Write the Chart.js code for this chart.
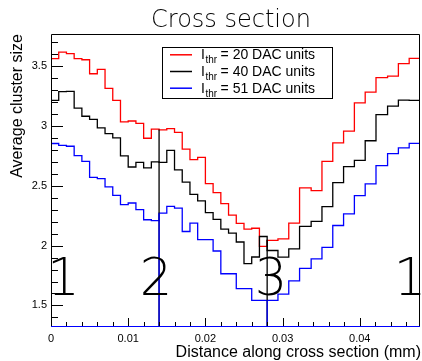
<!DOCTYPE html>
<html lang="en">
<head>
<meta charset="UTF-8">
<title>Cross section</title>
<script src="https://cdn.jsdelivr.net/npm/chart.js"></script>
<style>
  * { margin: 0; padding: 0; }
  body { background: white; }
  canvas { display: block; }
</style>
</head>
<body>
<canvas id="chart" width="422" height="361"></canvas>
<script>
// bin edges along the cross section (mm) - the pitch gets wider after 0.028 (diagonal part)
const binEdges = [0, 0.001, 0.002, 0.003, 0.004, 0.005, 0.006, 0.007, 0.008, 0.009,
  0.010, 0.011, 0.012, 0.013, 0.014, 0.015, 0.016, 0.017, 0.018, 0.019,
  0.020, 0.021, 0.022, 0.023, 0.024, 0.025, 0.026, 0.027, 0.028,
  0.0294, 0.0308, 0.0322, 0.0337, 0.0351, 0.0365, 0.0379, 0.0393,
  0.0407, 0.0421, 0.0436, 0.0450, 0.0464, 0.0478];

const thresholds = [20, 40, 51];
const seriesColors = ['#ff0000', '#000000', '#0000ff'];

const size20 = [3.562, 3.617, 3.604, 3.562, 3.553, 3.436, 3.472, 3.313, 3.213, 3.034,
  3.041, 3.022, 2.897, 2.973, 2.967, 2.978, 2.946, 2.806, 2.718, 2.737,
  2.518, 2.442, 2.350, 2.255, 2.186, 2.138, 2.145, 1.993,
  2.043, 2.056, 2.188, 2.482, 2.460, 2.704, 2.858, 2.956, 3.193, 3.282,
  3.403, 3.416, 3.520, 3.564];
const size40 = [3.213, 3.286, 3.288, 3.148, 3.081, 3.054, 2.984, 2.936, 2.900, 2.749,
  2.657, 2.696, 2.649, 2.699, 2.696, 2.796, 2.632, 2.530, 2.428, 2.373,
  2.275, 2.220, 2.138, 2.105, 2.030, 1.850, 1.905, 2.076,
  1.959, 1.904, 1.973, 2.160, 2.202, 2.325, 2.526, 2.660, 2.712, 2.876,
  3.095, 3.165, 3.215, 3.213];
const size51 = [2.853, 2.838, 2.830, 2.752, 2.704, 2.570, 2.559, 2.490, 2.420, 2.342,
  2.356, 2.300, 2.216, 2.208, 2.272, 2.328, 2.314, 2.118, 2.188, 2.050,
  2.050, 1.955, 1.765, 1.765, 1.640, 1.640, 1.543, 1.543,
  1.543, 1.595, 1.705, 1.810, 1.890, 1.985, 2.168, 2.265, 2.418, 2.515,
  2.668, 2.768, 2.817, 2.855];

// region dividers and their labels
const dividerX = [0.014, 0.028];
const dividerTopBlack = [2.97, 2.05];
const dividerTopBlue = [2.27, 1.543];
const regionText = ['1', '2', '3', '1'];
const regionX = [0.0016, 0.0136, 0.0285, 0.0465];
const regionY = 1.588;

const xTicks = [0, 0.01, 0.02, 0.03, 0.04];
const yTicks = [1.5, 2, 2.5, 3, 3.5];
const xMin = 0, xMax = 0.0478;
const yMin = 1.32, yMax = 3.768;

function histPoints(values) {
  return binEdges.map((x, i) => ({ x: x, y: values[Math.min(i, values.length - 1)] }));
}

function dividerPoints(tops) {
  let pts = [];
  dividerX.forEach((x, i) => {
    if (i > 0) pts.push({ x: x, y: null });
    pts.push({ x: x, y: yMin });
    pts.push({ x: x, y: tops[i] });
  });
  return pts;
}

const tickFont = { family: 'Liberation Sans', size: 11 };

function histDataset(values, i) {
  return {
    label: 'I_thr = ' + thresholds[i] + ' DAC units',
    data: histPoints(values),
    borderColor: seriesColors[i],
    borderWidth: 1.3,
    pointRadius: 0,
    stepped: 'before',
    fill: false,
    order: 10 - i
  };
}

// ROOT style frame, inward ticks and all the free text
const rootStyle = {
  id: 'rootStyle',
  afterDraw(chart) {
    const ctx = chart.ctx;
    const a = chart.chartArea;
    const xs = chart.scales.x, ys = chart.scales.y;
    ctx.save();

    // frame
    ctx.strokeStyle = '#000';
    ctx.lineWidth = 1;
    ctx.beginPath();
    ctx.moveTo(a.left + 0.5, a.bottom - 0.5);
    ctx.lineTo(a.left + 0.5, a.top + 0.5);
    ctx.lineTo(a.right - 0.5, a.top + 0.5);
    ctx.lineTo(a.right - 0.5, a.bottom - 0.5);
    ctx.stroke();
    ctx.strokeStyle = '#0000ff';
    ctx.beginPath();
    ctx.moveTo(a.left, a.bottom - 0.5);
    ctx.lineTo(a.right, a.bottom - 0.5);
    ctx.stroke();

    // ticks
    ctx.strokeStyle = '#000';
    ctx.beginPath();
    for (let k = 0; k <= 23; k++) {
      const v = k * 0.002;
      const px = Math.round(xs.getPixelForValue(v)) + 0.5;
      const len = (k % 5 === 0) ? 8 : 4;
      ctx.moveTo(px, a.bottom - 1);
      ctx.lineTo(px, a.bottom - 1 - len);
    }
    for (let k = 14; k <= 37; k++) {
      const v = k / 10;
      const py = Math.round(ys.getPixelForValue(v)) + 0.5;
      const len = (k % 5 === 0) ? 11 : 6;
      ctx.moveTo(a.left + 1, py);
      ctx.lineTo(a.left + 1 + len, py);
    }
    ctx.stroke();

    // title
    ctx.fillStyle = '#000';
    ctx.font = '200 24px "DejaVu Sans"';
    ctx.textAlign = 'center';
    ctx.textBaseline = 'alphabetic';
    ctx.fillText('Cross section', 231, 27);

    // axis titles
    ctx.font = '16px "Liberation Sans"';
    ctx.textAlign = 'right';
    ctx.fillText('Distance along cross section (mm)', 421, 357);
    ctx.save();
    ctx.translate(21.5, 34);
    ctx.rotate(-Math.PI / 2);
    ctx.fillText('Average cluster size', 0, 0);
    ctx.restore();

    // region numbers
    ctx.font = '200 51px "DejaVu Sans"';
    ctx.textAlign = 'center';
    regionText.forEach((t, i) => {
      ctx.fillText(t, xs.getPixelForValue(regionX[i]), ys.getPixelForValue(regionY));
    });

    // legend
    const box = { x: 162.5, y: 47.5, w: 170, h: 51 };
    ctx.fillStyle = '#fff';
    ctx.fillRect(box.x, box.y, box.w, box.h);
    ctx.strokeStyle = '#000';
    ctx.strokeRect(box.x, box.y, box.w, box.h);
    thresholds.forEach((thr, i) => {
      const base = 59.3 + i * 16.7;
      const ly = base - 4.5;
      ctx.strokeStyle = seriesColors[i];
      ctx.lineWidth = 1.5;
      ctx.beginPath();
      ctx.moveTo(170, ly);
      ctx.lineTo(192, ly);
      ctx.stroke();
      ctx.fillStyle = '#000';
      ctx.textAlign = 'left';
      ctx.font = '14px "Liberation Sans"';
      let x = 201;
      ctx.fillText('I', x, base);
      x += ctx.measureText('I').width + 0.5;
      ctx.font = '10px "Liberation Sans"';
      ctx.fillText('thr', x, base + 4);
      x += ctx.measureText('thr').width + 3.5;
      ctx.font = '14px "Liberation Sans"';
      ctx.fillText('= ' + thr + ' DAC units', x, base);
    });

    ctx.restore();
  }
};

new Chart(document.getElementById('chart'), {
  type: 'line',
  data: {
    datasets: [
      histDataset(size20, 0),
      histDataset(size40, 1),
      histDataset(size51, 2),
      {
        label: 'divider black',
        data: dividerPoints(dividerTopBlack),
        borderColor: '#000',
        borderWidth: 1.3,
        pointRadius: 0,
        spanGaps: false,
        order: 2
      },
      {
        label: 'divider blue',
        data: dividerPoints(dividerTopBlue),
        borderColor: '#0000ff',
        borderWidth: 1.3,
        pointRadius: 0,
        spanGaps: false,
        order: 1
      }
    ]
  },
  options: {
    responsive: false,
    animation: false,
    devicePixelRatio: 1,
    layout: { padding: { left: 0, right: 2, top: 34, bottom: 0 } },
    plugins: { legend: { display: false }, tooltip: { enabled: false }, title: { display: false } },
    scales: {
      x: {
        type: 'linear',
        min: xMin,
        max: xMax,
        afterBuildTicks: s => { s.ticks = xTicks.map(v => ({ value: v })); },
        afterFit: s => { s.height = 34; },
        grid: { display: false, drawTicks: false },
        border: { display: false },
        ticks: { font: tickFont, color: '#000', padding: 5, maxRotation: 0, autoSkip: false, callback: v => String(v) }
      },
      y: {
        type: 'linear',
        min: yMin,
        max: yMax,
        afterBuildTicks: s => { s.ticks = yTicks.map(v => ({ value: v })); },
        afterFit: s => { s.width = 51; },
        grid: { display: false, drawTicks: false },
        border: { display: false },
        ticks: { font: tickFont, color: '#000', padding: 4, autoSkip: false, callback: v => String(v) }
      }
    }
  },
  plugins: [rootStyle]
});
</script>
</body>
</html>
